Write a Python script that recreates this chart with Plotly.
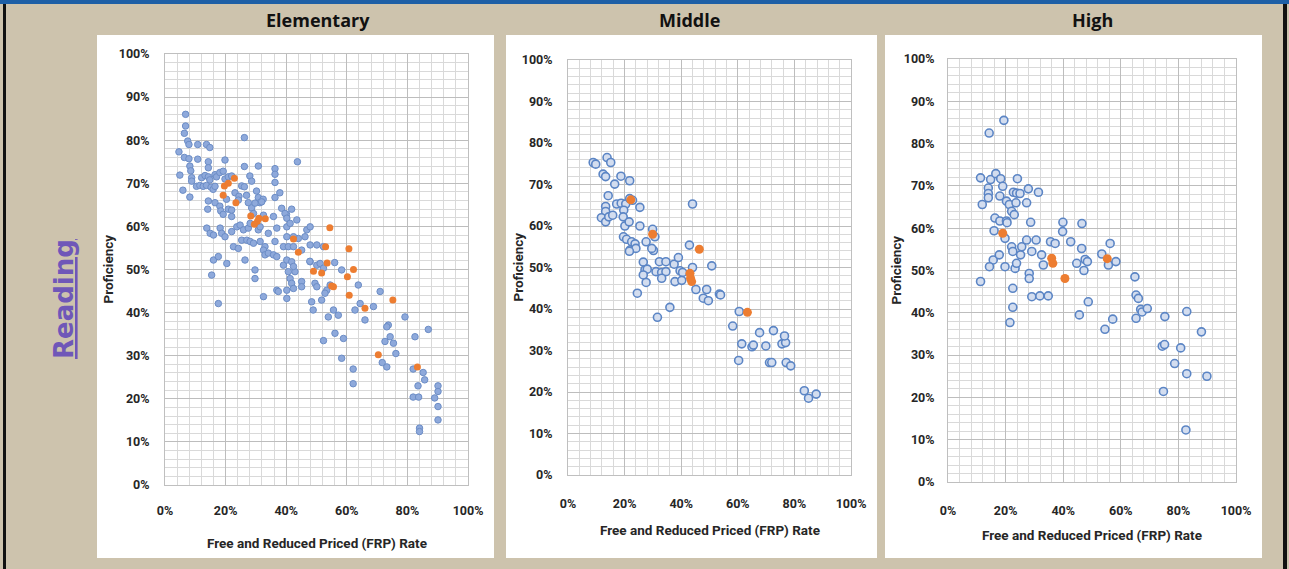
import plotly.graph_objects as go

W, H = 1289, 569

# ---------------- DATA (FRP rate %, Proficiency %) ----------------
panel_titles = ["Elementary", "Middle", "High"]
x_title = "Free and Reduced Priced (FRP) Rate"
y_title = "Proficiency"
row_label = "Reading"
x_ticks = [0, 20, 40, 60, 80, 100]
x_tick_labels = ["0%", "20%", "40%", "60%", "80%", "100%"]
y_ticks = [0, 10, 20, 30, 40, 50, 60, 70, 80, 90, 100]
y_tick_labels = ["0%", "10%", "20%", "30%", "40%", "50%", "60%", "70%", "80%", "90%", "100%"]

elem_blue = [
    (6.8, 86), (6.8, 83.3), (6.4, 81.6), (7.5, 79.8), (7.9, 79), (4.6, 77.3), (6.4, 76), (7.9, 75.7),
    (10.8, 79), (13.7, 79), (14.8, 78.3), (10.8, 75.6), (14.3, 75), (14.3, 73.6), (8.2, 74), (8.5, 72.9),
    (8.8, 71.3), (8.8, 70.5), (4.9, 71.9), (5.9, 68.4), (8.2, 66.8), (10.4, 69.3), (11.5, 69.5), (12.6, 69.3),
    (13.7, 69.5), (15.2, 69.1), (15.9, 68.6), (16.5, 69.3), (12.1, 71.3), (13.2, 71.8), (14.3, 71.5), (14.8, 70.8),
    (16.5, 72), (17, 71.5), (18.1, 72.5), (19.2, 72.8), (19.8, 71), (20.9, 71.5), (19.8, 75.4), (22, 71.7),
    (14.3, 65.9), (14.1, 64), (16.5, 65.5), (18.1, 64.7), (18.4, 63.6), (19.2, 62.8), (20.3, 66.3), (20.9, 64),
    (23.1, 67.8), (24.4, 67), (25.3, 69.4), (26.2, 69.2), (26.2, 80.6), (26.2, 73.9), (28, 71.7), (28.6, 70.5),
    (26.9, 67.2), (27.5, 65.5), (28.6, 64.3), (30.8, 74), (30.2, 68.2), (30.8, 66.7), (31.3, 65.5), (32.4, 66.3),
    (36.3, 73.4), (36.3, 72.1), (36.3, 70.2), (36.3, 66.7), (37.9, 67.8), (43.7, 75), (41.8, 64), (40.1, 62.8),
    (22, 62.3), (29.2, 63), (32.5, 62.6), (35.8, 62.3), (38.5, 64.2), (39.6, 63), (40.2, 61.9), (43.5, 61.5),
    (31.9, 65.7), (24.2, 66.1), (29.7, 65.4), (22, 63.8),
    (13.8, 59.6), (14.9, 58.4), (16, 58), (18.2, 59.6), (18.7, 58.4), (19.8, 57.6), (22, 58.8), (23.7, 59.9),
    (24.8, 60.3), (25.9, 59.2), (27.5, 59.6), (28.1, 60.7), (30.8, 59.2), (31.4, 59.9), (34.1, 58.4), (36.9, 59.6),
    (40.2, 59.9), (41.3, 60.7), (46.8, 59.2), (47.9, 59.9), (46.2, 57.6), (44, 57.2), (42.4, 57.6), (40.2, 57.6),
    (22.6, 55.3), (24.2, 54.9), (25.3, 56.8), (27, 56.8), (28.1, 56.5), (29.2, 56.1), (31.4, 56.5), (33, 55.3),
    (36.3, 56.5), (39.1, 55.3), (40.7, 55.3), (42.4, 55.3), (45.1, 54.5), (47.9, 55.7), (50.1, 55.7), (52.3, 55.3),
    (16, 52.2), (17.6, 53), (20.4, 51.4), (26.4, 52.2), (32.5, 54.5), (33, 53.4), (34.1, 53.8), (35.8, 53.4),
    (36.9, 53), (39.1, 51), (40.2, 52.2), (41.8, 51.8), (42.9, 49.5), (42.4, 50.7), (40.7, 49.5), (41.3, 47.9),
    (41.8, 46.8), (42.4, 45.6), (45.1, 47.2), (45.1, 46), (47.9, 51.8), (50.1, 51), (51.2, 51.4), (49.5, 46.8),
    (50.1, 46), (52.3, 50.3), (58.3, 49.9), (29.7, 49.9), (29.7, 47.9), (17.6, 42.1), (15.4, 48.7), (32.5, 43.7),
    (36.9, 45.2), (37.4, 44.9), (40.2, 45.2), (40.2, 43.3), (48.4, 42.5), (48.9, 40.6), (51.7, 42.9), (53.4, 45.2),
    (52.8, 44.5), (54.5, 46.4), (53.9, 39), (55.6, 40.6), (57.2, 39.4), (62.7, 40.6), (63.8, 46.4), (64.4, 42.1),
    (66, 38.3), (68.8, 41.4), (71, 44.9), (79.2, 39), (73.7, 37.1), (73.2, 36.7), (74.3, 34.4), (72.6, 33.3),
    (75.4, 32.9), (76.2, 30.5), (82.5, 34.4), (86.9, 36.1), (56.1, 35.2), (58.9, 34), (52.3, 33.5), (58.3, 29.4),
    (71.7, 28.4), (73.2, 27.4), (62.1, 26.9), (62.1, 23.5), (81.9, 26.9), (81.9, 20.4), (83.7, 20.4), (83.5, 23),
    (84, 13.2), (84, 12.4), (85.2, 26.1), (85.7, 24.4), (89, 20.2), (90.1, 23), (90.1, 21.7), (90.1, 18.2),
    (90.1, 15.1), (56, 51.6), (47.8, 51.9),
]
elem_orange = [
    (19.6, 69.4), (20.9, 70), (19.2, 67.2), (22.9, 71.2), (23.4, 65.5), (28.3, 62.4), (30.5, 61.2), (31, 61.9),
    (33.1, 61.8), (29.5, 60.5), (42.4, 57.1), (44, 54), (54.4, 59.7), (53, 55.3), (53.5, 51.5), (49, 49.6),
    (51.7, 49.2), (55, 46.2), (55.6, 46), (60.7, 54.8), (62.2, 50), (60.2, 48.3), (60.8, 44), (66, 41),
    (75.2, 42.9), (70.4, 30.2), (83.3, 27.4),
]

mid_blue = [
    (8.9, 75.3), (9.8, 74.9), (13.8, 76.5), (15.1, 75.3), (12.4, 72.5), (13.3, 71.9), (16.5, 70.1), (18.7, 72),
    (21.8, 70.9), (14.2, 67.3), (13.3, 64.7), (13.3, 63.5), (11.8, 62), (13.3, 61), (14.4, 62.2), (15.8, 62.6),
    (17.2, 65.3), (18.8, 65.5), (20.4, 65.3), (19.7, 63.8), (19.5, 62.2), (20.1, 60), (21.6, 61), (21.8, 66.6),
    (22.8, 66.2), (25.4, 64.5), (25.4, 60), (19.6, 57.4), (20.7, 56.8), (22.5, 56.2), (23.7, 55.7), (21.9, 54.2),
    (24, 54.6), (21.7, 53.9), (27.6, 56.2), (30.2, 54.1), (29.6, 54.6), (29.9, 59.2), (30.7, 57.4), (42.9, 55.4),
    (44, 65.3), (26.6, 51.3), (27.2, 49.4), (28, 49.6), (26.6, 48.2), (27.6, 46.4), (31.1, 49), (32.3, 51.4),
    (33.1, 48.8), (34.6, 51.4), (34.6, 49), (33.1, 47.4), (37.5, 50.8), (39, 52.4), (39.6, 49.2), (40.5, 48.8),
    (37.8, 46.6), (40.2, 46.9), (44, 50), (45.2, 44.7), (49, 44.7), (47.8, 42.6), (49.6, 42), (53.5, 43.6),
    (53.9, 43.4), (50.8, 50.4), (24.5, 43.8), (36, 40.4), (31.6, 38), (60.5, 39.4), (58.2, 35.9), (61.4, 31.6),
    (65, 30.9), (65.5, 31.3), (60.3, 27.6), (67.7, 34.3), (69.9, 31.1), (71.2, 27.1), (72, 27.1), (72.6, 34.8),
    (75.6, 31.6), (76.9, 31.9), (76.5, 33.5), (77.1, 27.1), (78.7, 26.3), (83.5, 20.3), (85, 18.5), (87.7, 19.5),
]
mid_orange = [(22.2, 66.3), (29.9, 58), (43.1, 48.6), (43.3, 47.4), (43.7, 46.6), (46.4, 54.4), (63.4, 39.2)]

high_blue = [
    (19.4, 85.5), (14.3, 82.5), (11.3, 71.9), (14.8, 71.5), (16.6, 72.9), (18.3, 71.7), (19, 69.9), (14, 69.5),
    (14, 68.2), (14, 67.2), (11.9, 65.6), (18, 67.6), (20.3, 66.4), (21.3, 65.6), (22.1, 64), (23, 63.2),
    (22.7, 68.5), (23.8, 68.3), (25, 68.2), (24.1, 71.7), (23.6, 66), (27.3, 66), (27.9, 69.3), (31.4, 68.5),
    (16.3, 62.4), (18, 61.7), (20.3, 61.7), (20.5, 61.3), (28.7, 61.4), (16, 59.4), (19.8, 57.6), (22.1, 55.6),
    (22.5, 54.5), (25.6, 55.6), (27.3, 57.2), (30.6, 57.2), (35.6, 56.8), (37.2, 56.4), (39.8, 59.2), (39.9, 61.4),
    (15.7, 52.5), (17.8, 53.7), (14.4, 50.9), (19.8, 50.9), (23.3, 50.5), (23.8, 51.7), (25.2, 53.7), (29.1, 54.5),
    (32.5, 53.7), (33.1, 51.3), (28.2, 49.3), (28.2, 48.1), (11.3, 47.4), (22.5, 45.8), (22.5, 41.3), (21.5, 37.7),
    (29.1, 43.8), (31.9, 44), (34.8, 44), (42.6, 56.8), (46.5, 61.1), (46.4, 55.2), (47.6, 52.6), (48.4, 52.1),
    (47.2, 50), (44.7, 51.7), (48.7, 42.6), (45.6, 39.5), (53.4, 53.9), (56.3, 56.4), (55.7, 51.3), (58.3, 52.1),
    (54.5, 36.1), (57.2, 38.5), (64.9, 48.5), (65.3, 44.2), (66.1, 43.4), (65.3, 38.7), (66.9, 40.8), (67.4, 40.2),
    (69.2, 41), (75.3, 39.1), (82.9, 40.3), (74.4, 32.1), (75.2, 32.5), (74.8, 21.4), (78.7, 28), (80.8, 31.7),
    (82.9, 25.6), (82.6, 12.3), (88, 35.5), (89.9, 25),
]
high_orange = [(19, 58.8), (36, 52.9), (36.4, 51.7), (40.6, 48.1), (55.3, 52.8)]

# ---------------- LAYOUT GEOMETRY (pixels) ----------------
# plot area: (x0, x1, ytop, ybottom)
plots = [(165, 468, 54, 485), (568, 851, 60, 475), (948, 1236, 59, 482)]
white_boxes = [(97, 35, 494, 558), (506, 35, 877, 558), (885, 35, 1262, 558)]
title_x = [318, 689, 1092]
xtitle_y = [543, 530, 535]
ytitle_x = [107, 517, 895]
x_standoff = [14, 17, 17]
y_standoff = [12, 12, 10]


def px(x):
    return x / W


def py(y):
    return 1 - y / H


BEIGE = "#CDC3AD"
fig = go.Figure()

blue_small = dict(size=6.5, color="#8EA9DB", line=dict(color="#6C8DC6", width=1))
blue_ring = dict(size=8, color="#D3DDEF", line=dict(color="#5B85C5", width=1.6))
orange_small = dict(size=7, color="#ED7D31", line=dict(width=0))
orange_big = dict(size=9, color="#ED7D31", line=dict(width=0))

series = [
    (elem_blue, elem_orange, blue_small, orange_small),
    (mid_blue, mid_orange, blue_ring, orange_big),
    (high_blue, high_orange, blue_ring, orange_big),
]

for i, (blue, orange, bm, om) in enumerate(series):
    suf = "" if i == 0 else str(i + 1)
    for pts, mk in ((blue, bm), (orange, om)):
        fig.add_trace(go.Scatter(
            x=[p[0] for p in pts], y=[p[1] for p in pts], mode="markers",
            marker=mk, xaxis="x" + suf, yaxis="y" + suf, showlegend=False,
            hoverinfo="skip", cliponaxis=False,
        ))

TICKFONT = dict(family="Roboto, sans-serif", size=12.5, color="#262626", weight="bold")
LABELFONT = dict(family="Roboto, sans-serif", size=13.5, color="#262626", weight="bold")
layout_axes = {}
for i, (x0, x1, yt, yb) in enumerate(plots):
    suf = "" if i == 0 else str(i + 1)
    layout_axes["xaxis" + suf] = dict(
        domain=[px(x0), px(x1)], range=[0, 100], anchor="y" + suf, automargin=False,
        tickmode="array", tickvals=x_ticks, ticktext=x_tick_labels, tickfont=TICKFONT,
        showgrid=True, gridcolor="#BDBDBD", gridwidth=1,
        minor=dict(dtick=4, showgrid=True, gridcolor="#D9D9D9", gridwidth=1),
        showline=True, linecolor="#BFBFBF", mirror=True, zeroline=False,
        ticks="", ticklabelstandoff=x_standoff[i], fixedrange=True,
    )
    layout_axes["yaxis" + suf] = dict(
        domain=[py(yb), py(yt)], range=[0, 100], anchor="x" + suf, automargin=False,
        tickmode="array", tickvals=y_ticks, ticktext=y_tick_labels, tickfont=TICKFONT,
        showgrid=True, gridcolor="#BDBDBD", gridwidth=1,
        minor=dict(dtick=2, showgrid=True, gridcolor="#D9D9D9", gridwidth=1),
        showline=True, linecolor="#BFBFBF", mirror=True, zeroline=False,
        ticks="", ticklabelstandoff=y_standoff[i], fixedrange=True,
    )

shapes = [
    dict(type="rect", xref="paper", yref="paper", x0=0, x1=1, y0=py(4), y1=1,
         fillcolor="#1D5FA6", line=dict(width=0), layer="below"),
    dict(type="rect", xref="paper", yref="paper", x0=px(3), x1=px(6), y0=0, y1=py(4),
         fillcolor="#111111", line=dict(width=0), layer="below"),
    dict(type="rect", xref="paper", yref="paper", x0=px(1283), x1=px(1287), y0=0, y1=py(4),
         fillcolor="#111111", line=dict(width=0), layer="below"),
]
for (bx0, by0, bx1, by1) in white_boxes:
    shapes.append(dict(type="rect", xref="paper", yref="paper", x0=px(bx0), x1=px(bx1),
                       y0=py(by1), y1=py(by0), fillcolor="white", line=dict(width=0), layer="below"))

annotations = []
for i, (x0, x1, yt, yb) in enumerate(plots):
    annotations.append(dict(text=panel_titles[i], x=px(title_x[i]), y=py(20), xref="paper", yref="paper",
                            showarrow=False, xanchor="center", yanchor="middle",
                            font=dict(family="Open Sans", size=18, color="#111111", weight="bold")))
    annotations.append(dict(text=x_title, x=px((x0 + x1) / 2), y=py(xtitle_y[i]), xref="paper", yref="paper",
                            showarrow=False, xanchor="center", yanchor="middle", font=LABELFONT))
    annotations.append(dict(text=y_title, x=px(ytitle_x[i]), y=py((yt + yb) / 2), xref="paper", yref="paper",
                            showarrow=False, xanchor="center", yanchor="middle", textangle=-90,
                            font=LABELFONT))

annotations.append(dict(text=row_label, x=px(64), y=py(299), xref="paper", yref="paper",
                        showarrow=False, xanchor="center", yanchor="middle", textangle=-90,
                        font=dict(family="DejaVu Sans", size=26, color="#6F57B8", weight="bold",
                                  lineposition="under")))

fig.update_layout(
    width=W, height=H, margin=dict(l=0, r=0, t=0, b=0, pad=0, autoexpand=False),
    paper_bgcolor=BEIGE, plot_bgcolor="white",
    shapes=shapes, annotations=annotations, showlegend=False,
    **layout_axes,
)

fig.write_html(
    "out.html",
    config={"displayModeBar": False, "responsive": False},
    post_script="document.body.style.margin='0';document.body.style.overflow='hidden';"
                "document.documentElement.style.overflow='hidden';",
)
